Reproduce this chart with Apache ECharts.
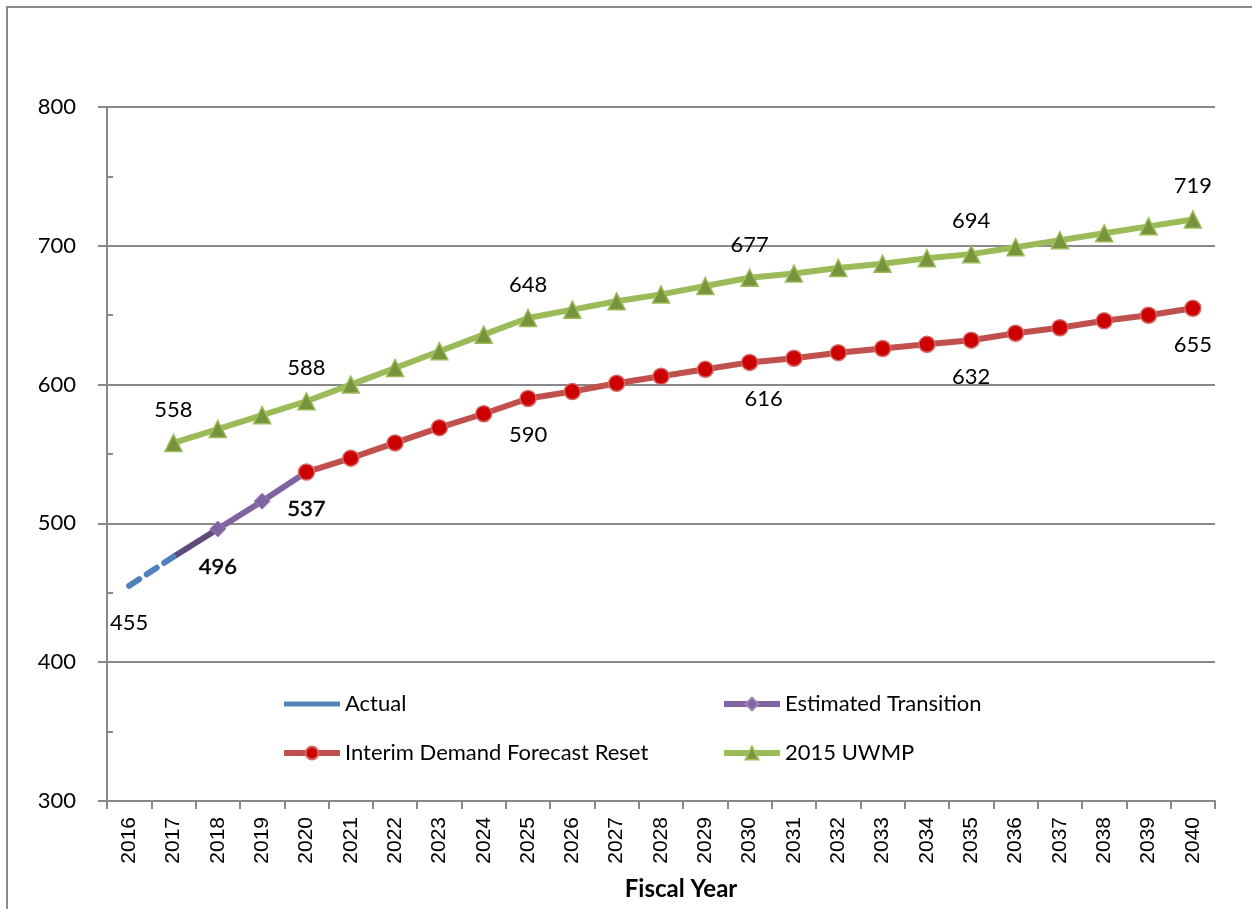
<!DOCTYPE html>
<html>
<head>
<meta charset="utf-8">
<script src="https://cdn.jsdelivr.net/npm/echarts@6/dist/echarts.min.js"></script>
<style>
  html, body { margin: 0; padding: 0; background: #fff; }
  #chart { width: 1252px; height: 909px; }
</style>
</head>
<body>
<div id="chart"></div>
<script>
// Fiscal years on the category axis
const years = ['2016','2017','2018','2019','2020','2021','2022','2023','2024','2025','2026','2027','2028',
               '2029','2030','2031','2032','2033','2034','2035','2036','2037','2038','2039','2040'];

// Series values (first year of each series noted)
const actualStart = '2016';
const actual = [455, 476];
const bridgeStart = '2017';           // solid segment joining actuals to the transition
const bridge = [476, 496];
const transitionStart = '2018';
const transition = [496, 516, 537];
const interimStart = '2020';
const interim = [537, 547, 558, 569, 579, 590, 595, 601, 606, 611, 616, 619, 623, 626, 629, 632, 637, 641, 646, 650, 655];
const uwmpStart = '2017';
const uwmp = [558, 568, 578, 588, 600, 612, 624, 636, 648, 654, 660, 665, 671, 677, 680, 684, 687, 691, 694, 699, 704, 709, 714, 719];

// Years whose values are printed
const actualLabelYears = ['2016'];
const transitionLabelYears = ['2018'];
const interimLabelYears = ['2020', '2025', '2030', '2035', '2040'];
const uwmpLabelYears = ['2017', '2020', '2025', '2030', '2035', '2040'];

// Y-axis ticks
const yMin = 300, yMax = 800, yStep = 100;

const FONT = 'Lato, "Open Sans", sans-serif';
const LINE_W = 6;

function place(start, values) {
  const out = years.map(() => null);
  const s = years.indexOf(start);
  values.forEach((v, i) => { out[s + i] = v; });
  return out;
}

function withLabels(arr, labelYears, labelCfg, extra) {
  return arr.map((v, i) => {
    if (v === null) return null;
    if (labelYears.indexOf(years[i]) >= 0) {
      const cfg = Object.assign({ show: true }, labelCfg, (extra && extra[years[i]]) || {});
      return { value: v, label: cfg };
    }
    return v;
  });
}

const labelText = { fontFamily: FONT, fontSize: 22, color: '#000' };
const heavyLabel = { textBorderColor: '#000', textBorderWidth: 0.5 };

const legendBase = {
  orient: 'vertical',
  top: 691,
  padding: 0,
  itemWidth: 56, itemHeight: 16, itemGap: 23,
  textStyle: { fontFamily: FONT, fontSize: 22, color: '#000', lineHeight: 26 }
};

const chart = echarts.init(document.getElementById('chart'));

chart.setOption({
  backgroundColor: '#fff',
  animation: false,
  graphic: [{
    type: 'rect',
    shape: { x: 7, y: 7, width: 1300, height: 1000 },
    style: { fill: 'none', stroke: '#8a8a8a', lineWidth: 2 },
    silent: true
  }],
  grid: { left: 107, right: 37, top: 107, bottom: 108, containLabel: false },
  legend: [Object.assign({}, legendBase, {
    left: 281,
    data: [
      { name: 'Actual', icon: 'path://M0,0h56v5h-56z', itemStyle: { color: '#4f81bd' } },
      { name: 'Interim Demand Forecast Reset', lineStyle: { width: LINE_W } }
    ]
  }), Object.assign({}, legendBase, {
    left: 721,
    data: [
      { name: 'Estimated Transition', lineStyle: { width: LINE_W } },
      { name: '2015 UWMP', lineStyle: { width: LINE_W } }
    ]
  })],
  xAxis: {
    type: 'category',
    data: years,
    boundaryGap: true,
    name: 'Fiscal Year',
    nameLocation: 'middle',
    nameGap: 76,
    nameTextStyle: { fontFamily: FONT, fontSize: 24, fontWeight: 'bold', color: '#000', padding: [0, 0, 0, 40] },
    axisLine: { lineStyle: { color: '#898989', width: 2 } },
    axisTick: { show: true, alignWithLabel: false, interval: 0, length: 8, lineStyle: { color: '#898989', width: 2 } },
    axisLabel: { rotate: 90, interval: 0, margin: 16, fontFamily: '"Liberation Sans", Arial, sans-serif', fontSize: 21, color: '#000' },
    splitLine: { show: false }
  },
  yAxis: [{
    type: 'value',
    min: yMin, max: yMax, interval: yStep,
    axisLine: { show: true, lineStyle: { color: '#898989', width: 2 } },
    axisTick: { show: true, length: 9, lineStyle: { color: '#898989', width: 2 } },
    axisLabel: { margin: 31, fontFamily: FONT, fontSize: 22, color: '#000' },
    splitLine: { show: true, lineStyle: { color: '#898989', width: 2 } }
  }, {
    type: 'value',
    position: 'left',
    min: yMin, max: yMax, interval: yStep / 2,
    axisLine: { show: false },
    axisTick: { show: true, inside: true, length: 6, lineStyle: { color: '#898989', width: 2 } },
    axisLabel: { show: false },
    splitLine: { show: false }
  }],
  series: [{
    name: '2015 UWMP',
    type: 'line',
    z: 2,
    data: withLabels(place(uwmpStart, uwmp), uwmpLabelYears,
      Object.assign({ position: 'top', distance: 13 }, labelText)),
    symbol: 'triangle', symbolSize: 17,
    lineStyle: { color: '#9bbb59', width: LINE_W },
    itemStyle: { color: '#77933c', borderColor: '#9bbb59', borderWidth: 1.5 }
  }, {
    name: 'Interim Demand Forecast Reset',
    type: 'line',
    z: 4,
    data: withLabels(place(interimStart, interim), interimLabelYears,
      Object.assign({ position: 'bottom', distance: 17 }, labelText),
      { '2020': heavyLabel, '2030': { offset: [14, 0] } }),
    symbol: 'circle', symbolSize: 16,
    lineStyle: { color: '#c0504d', width: LINE_W },
    itemStyle: { color: '#cc0000', borderColor: '#d46a67', borderWidth: 1.5 }
  }, {
    name: 'Estimated Transition',
    type: 'line',
    z: 3,
    data: withLabels(place(transitionStart, transition), transitionLabelYears,
      Object.assign({ position: 'bottom', distance: 18 }, labelText, heavyLabel)),
    symbol: 'diamond', symbolSize: 16,
    lineStyle: { color: '#8064a2', width: LINE_W },
    itemStyle: { color: '#8064a2', borderColor: '#9a84b8', borderWidth: 1 }
  }, {
    name: 'Actual link',
    type: 'line',
    z: 3,
    data: place(bridgeStart, bridge),
    symbol: 'none',
    lineStyle: { color: '#5f4a7e', width: LINE_W },
    itemStyle: { color: '#5f4a7e' }
  }, {
    name: 'Actual',
    type: 'line',
    z: 3,
    data: withLabels(place(actualStart, actual), actualLabelYears,
      Object.assign({ position: 'bottom', distance: 26 }, labelText)),
    symbol: 'circle', symbolSize: 1,
    lineStyle: { color: '#4f81bd', width: LINE_W, type: [12, 9], cap: 'round' },
    itemStyle: { color: 'rgba(0,0,0,0)' }
  }]
});
</script>
</body>
</html>
